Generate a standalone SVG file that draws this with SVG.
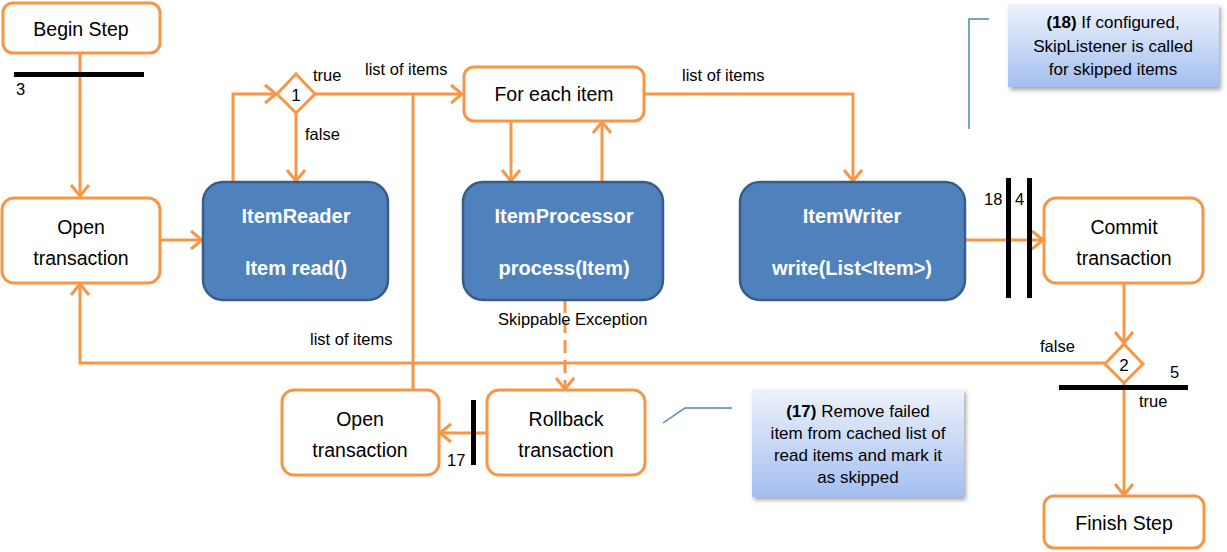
<svg xmlns="http://www.w3.org/2000/svg" width="1227" height="552" viewBox="0 0 1227 552">
<style>
.box{fill:#fff;stroke:#f79646;stroke-width:3}
.blue{fill:#4f81bd;stroke:#385d8a;stroke-width:2.5}
.t{font-family:"Liberation Sans",Arial,sans-serif;font-size:19.5px;fill:#000;text-anchor:middle}
.bt{font-family:"Liberation Sans",Arial,sans-serif;font-size:20px;font-weight:bold;fill:#fff;text-anchor:middle}
.lb{font-family:"Liberation Sans",Arial,sans-serif;font-size:16.5px;fill:#000}
.nt{font-family:"Liberation Sans",Arial,sans-serif;font-size:17px;fill:#000;text-anchor:middle}
.c{fill:none;stroke:#f79646;stroke-width:3}
.bar{fill:#000}
.call{fill:none;stroke:#4f81bd;stroke-width:1.5}
.note{fill:url(#ng);filter:url(#sh)}
</style>
<defs>
<marker id="ah" viewBox="-14 -11 16 22" markerWidth="16" markerHeight="22" refX="0" refY="0" orient="auto" markerUnits="userSpaceOnUse">
<path d="M-11,-9 L0,0 L-11,9" fill="none" stroke="#f79646" stroke-width="3"/>
</marker>
<linearGradient id="ng" x1="0" y1="0" x2="0" y2="1">
<stop offset="0" stop-color="#eef2fc"/>
<stop offset="1" stop-color="#a3bff0"/>
</linearGradient>
<filter id="sh" x="-10%" y="-10%" width="130%" height="130%">
<feDropShadow dx="2" dy="3" stdDeviation="2" flood-color="#000" flood-opacity="0.35"/>
</filter>
</defs>
<g id="connectors">
<path class="c" d="M80,53 V196" marker-end="url(#ah)"/>
<path class="c" d="M160,240 H202" marker-end="url(#ah)"/>
<path class="c" d="M233,182 V94 H276" marker-end="url(#ah)"/>
<path class="c" d="M296,113 V181" marker-end="url(#ah)"/>
<path class="c" d="M315,94 H462" marker-end="url(#ah)"/>
<path class="c" d="M413,390 V94"/>
<path class="c" d="M511,121 V181" marker-end="url(#ah)"/>
<path class="c" d="M602,182 V122" marker-end="url(#ah)"/>
<path class="c" d="M644,94 H853 V181" marker-end="url(#ah)"/>
<path class="c" d="M965,240 H1043" marker-end="url(#ah)"/>
<path class="c" d="M1124,283 V343" marker-end="url(#ah)"/>
<path class="c" d="M1105,363 H80 V284" marker-end="url(#ah)"/>
<path class="c" d="M1124,383 V495" marker-end="url(#ah)"/>
<path class="c" d="M565,300 V389" stroke-dasharray="13,7" marker-end="url(#ah)"/>
<path class="c" d="M487,433 H440" marker-end="url(#ah)"/>
<text class="lb" x="313" y="81">true</text>
<text class="lb" x="305" y="140">false</text>
<text class="lb" x="365" y="75">list of items</text>
<text class="lb" x="682" y="81">list of items</text>
<text class="lb" x="310" y="345">list of items</text>
<text class="lb" x="1040" y="352">false</text>
<text class="lb" x="1139" y="407">true</text>
<text class="lb" x="498" y="325">Skippable Exception</text>
</g>
<g id="bar3"><rect class="bar" x="14" y="72" width="130" height="5"/><text class="lb" x="16" y="95">3</text></g>
<g id="bar18-4"><rect class="bar" x="1006" y="178" width="5" height="120"/><rect class="bar" x="1027" y="178" width="5" height="120"/><text class="lb" x="984" y="205">18</text><text class="lb" x="1015" y="205">4</text></g>
<g id="bar5"><rect class="bar" x="1059" y="385" width="129" height="5"/><text class="lb" x="1170" y="378">5</text></g>
<g id="bar17"><rect class="bar" x="471" y="400" width="5" height="65"/><text class="lb" x="447" y="466">17</text></g>
<g id="begin"><rect class="box" x="3" y="3" width="157" height="50" rx="10"/><text class="t" x="81" y="36">Begin Step</text></g>
<g id="open1"><rect class="box" x="2" y="198" width="158" height="85" rx="12"/><text class="t" x="81" y="234">Open</text><text class="t" x="81" y="265">transaction</text></g>
<g id="reader"><rect class="blue" x="203" y="182" width="185" height="118" rx="20"/><text class="bt" x="296" y="223">ItemReader</text><text class="bt" x="296" y="275">Item read()</text></g>
<g id="d1"><polygon class="box" points="296,74 315,94 296,113 277,94"/><text class="t" x="296" y="101" style="font-size:17px">1</text></g>
<g id="foreach"><rect class="box" x="464" y="67" width="180" height="54" rx="10"/><text class="t" x="554" y="101">For each item</text></g>
<g id="processor"><rect class="blue" x="463" y="182" width="200" height="118" rx="20"/><text class="bt" x="564" y="223">ItemProcessor</text><text class="bt" x="564" y="275">process(Item)</text></g>
<g id="writer"><rect class="blue" x="740" y="182" width="225" height="118" rx="20"/><text class="bt" x="852" y="223">ItemWriter</text><text class="bt" x="852" y="275">write(List&lt;Item&gt;)</text></g>
<g id="commit"><rect class="box" x="1044" y="198" width="159" height="85" rx="12"/><text class="t" x="1124" y="234">Commit</text><text class="t" x="1124" y="265">transaction</text></g>
<g id="d2"><polygon class="box" points="1124,344 1143,364 1124,383 1105,364"/><text class="t" x="1124" y="371" style="font-size:17px">2</text></g>
<g id="finish"><rect class="box" x="1044" y="496" width="160" height="52" rx="10"/><text class="t" x="1124" y="530">Finish Step</text></g>
<g id="rollback"><rect class="box" x="487" y="390" width="158" height="85" rx="12"/><text class="t" x="566" y="426">Rollback</text><text class="t" x="566" y="457">transaction</text></g>
<g id="open2"><rect class="box" x="282" y="390" width="157" height="85" rx="12"/><text class="t" x="360" y="426">Open</text><text class="t" x="360" y="457">transaction</text></g>
<g id="note17"><path class="call" d="M663,423 L685,408 H732"/><rect class="note" x="752" y="389" width="212" height="108"/><text class="nt" x="858" y="417"><tspan font-weight="bold">(17)</tspan> Remove failed</text><text class="nt" x="858" y="439">item from cached list of</text><text class="nt" x="858" y="461">read items and mark it</text><text class="nt" x="858" y="483">as skipped</text></g>
<g id="note18"><path class="call" d="M989,19 H969 V129"/><rect class="note" x="1008" y="4" width="211" height="83"/><text class="nt" x="1113" y="28"><tspan font-weight="bold">(18)</tspan> If configured,</text><text class="nt" x="1113" y="52">SkipListener is called</text><text class="nt" x="1113" y="75">for skipped items</text></g>
</svg>
